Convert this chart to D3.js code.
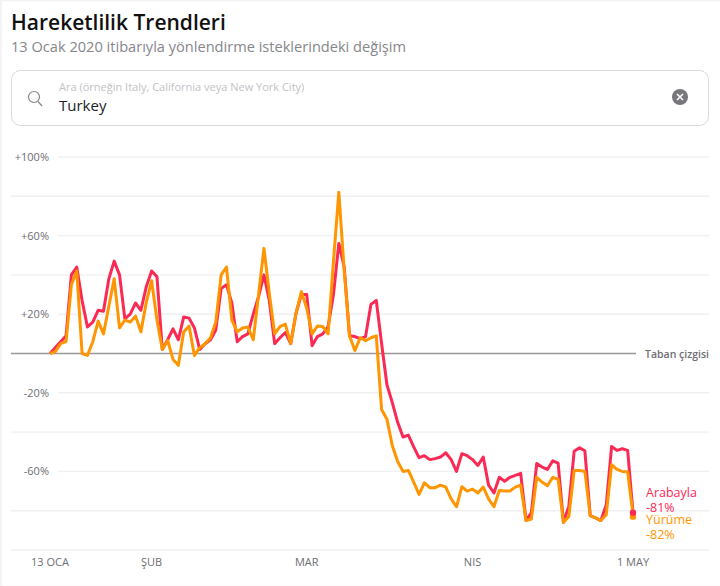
<!DOCTYPE html>
<html><head><meta charset="utf-8">
<script src="https://cdn.jsdelivr.net/npm/d3@7"></script>
<style>
html,body{margin:0;padding:0;background:#fff;overflow:hidden}
text{font-family:"Open Sans",sans-serif}
</style></head><body><svg id="c" width="720" height="586"></svg>
<script>
const title = "Hareketlilik Trendleri";
const subtitle = "13 Ocak 2020 itibarıyla yönlendirme isteklerindeki değişim";
const placeholder = "Ara (örneğin Italy, California veya New York City)";
const query = "Turkey";
const baselineLabel = "Taban çizgisi";
const gridValues = [100,80,60,40,20,-20,-40,-60,-80,-100];
const labelledValues = [100,60,20,-20,-60];
const yTickLabels = ["+100%","+60%","+20%","-20%","-60%"];
const xTickDays = [0,19,48,79,109];
const xTickLabels = ["13 OCA","ŞUB","MAR","NIS","1 MAY"];
const driving = [0,3,6,9,40,44,27,13.5,16,22,21.5,38,47,40,17.6,20,25.7,22,34,42,39,2,7,12.5,7,18.6,18,13,2,5,7,12,33,35,25.6,6,8.6,10,20,29,40,27,5,8,10.7,5,20.5,30,30,4,8.6,10,13.7,30,56,44,9,8.6,7.5,8.6,25,27,5,-16,-25,-35,-42.5,-41.5,-47.5,-53,-52,-54,-53.5,-52.7,-50.5,-54,-60,-51,-52,-54,-57,-52.7,-67,-71,-63,-65,-63,-62,-61,-85,-81,-56,-57.8,-59,-54.6,-55.8,-85.9,-77.8,-49.8,-48,-49.5,-82.5,-83.7,-85,-77,-47.3,-49.3,-48.5,-49.3,-81];
const walking = [0,1,5,6,35,42,0,-1,6,16.5,10,24,38,13,17,16,19,11,26,37,17,2,6.6,-3,-6,11,14,-1,3,5,8,16,40,44,17,11,13,13.5,7,30,53.5,30.7,10,13.7,15,5,20.5,31.5,23,10,14,13.7,10,47,82,42.5,9,1.5,8,6.5,8,9,-28.5,-33.5,-47,-55,-60,-59.5,-65.5,-71.7,-65.8,-68.3,-68.3,-67,-68,-74,-78,-67.8,-70,-69,-71,-68,-74,-78,-69.7,-70,-70,-68,-67,-85,-84.2,-63,-65.4,-67.3,-63,-64,-86,-83,-59.5,-59.5,-60,-82.5,-83.7,-85,-82,-56.5,-59,-60,-60.2,-82];
const endLabels = [["Arabayla","-81%"],["Yürüme","-82%"]];
const colors = {driving:"#fa2a55", walking:"#ff9500"};

const svg = d3.select("#c");
const x = d3.scaleLinear().domain([0,109]).range([50,633]);
const y = d3.scaleLinear().domain([100,-100]).range([157,550]);

svg.append("rect").attr("width",720).attr("height",1.5).attr("fill","#f3f3f3");
svg.append("rect").attr("width",2).attr("height",586).attr("fill","#f3f3f3");

svg.append("text").attr("x",11).attr("y",30).attr("font-size",21).attr("font-weight",600).attr("fill","#111").text(title);
svg.append("text").attr("x",11).attr("y",52).attr("font-size",14.6).attr("fill","#86868b").text(subtitle);

svg.append("rect").attr("x",11.5).attr("y",70.5).attr("width",697).attr("height",55).attr("rx",9).attr("fill","#fff").attr("stroke","#d9d9de");
const icon = svg.append("g").attr("fill","none").attr("stroke","#86868b").attr("stroke-width",1.2);
icon.append("circle").attr("cx",34).attr("cy",97).attr("r",5.5);
icon.append("line").attr("x1",38).attr("y1",101.5).attr("x2",42).attr("y2",106);
svg.append("text").attr("x",59).attr("y",91).attr("font-size",11).attr("fill","#c2c2c6").text(placeholder);
svg.append("text").attr("x",59).attr("y",111).attr("font-size",15).attr("fill","#1d1d1f").text(query);
svg.append("circle").attr("cx",680).attr("cy",97).attr("r",8).attr("fill","#77777c");
svg.append("path").attr("d","M677 94L683 100M683 94L677 100").attr("stroke","#fff").attr("stroke-width",1.6);

svg.append("g").selectAll("line").data(gridValues).join("line")
  .attr("x1",d=>labelledValues.includes(d)?58:11).attr("x2",709)
  .attr("y1",d=>y(d)).attr("y2",d=>y(d)).attr("stroke","#f0f0f2").attr("stroke-width",1.4);
svg.append("line").attr("x1",11).attr("x2",636).attr("y1",y(0)).attr("y2",y(0)).attr("stroke","#999").attr("stroke-width",1.5);
svg.append("text").attr("x",645).attr("y",y(0)+4).attr("font-size",10.5).attr("font-weight",600).attr("fill","#6e6e73").text(baselineLabel);

svg.append("g").selectAll("text").data(labelledValues).join("text")
  .attr("x",49).attr("y",d=>y(d)+4).attr("text-anchor","end").attr("font-size",11).attr("fill","#6e6e73")
  .text((d,i)=>yTickLabels[i]);
svg.append("g").selectAll("text").data(xTickDays).join("text")
  .attr("x",d=>x(d)).attr("y",566).attr("text-anchor","middle").attr("font-size",11).attr("fill","#6e6e73")
  .text((d,i)=>xTickLabels[i]);

const line = d3.line().x((d,i)=>x(i)).y(d=>y(d));
svg.append("path").datum(driving).attr("d",line).attr("fill","none").attr("stroke",colors.driving).attr("stroke-width",3).attr("stroke-linejoin","round");
svg.append("path").datum(walking).attr("d",line).attr("fill","none").attr("stroke",colors.walking).attr("stroke-width",3).attr("stroke-linejoin","round");
svg.append("circle").attr("cx",x(109)).attr("cy",y(walking[109])+2).attr("r",3.2).attr("fill",colors.walking);
svg.append("circle").attr("cx",x(109)).attr("cy",y(driving[109])).attr("r",3.2).attr("fill",colors.driving);

[[0,colors.driving,497,512],[1,colors.walking,524,539]].forEach(([k,c,a,b])=>{
  svg.append("text").attr("x",646).attr("y",a).attr("font-size",12.5).attr("font-weight",500).attr("fill",c).text(endLabels[k][0]);
  svg.append("text").attr("x",646).attr("y",b).attr("font-size",12.5).attr("font-weight",500).attr("fill",c).text(endLabels[k][1]);
});
</script></body></html>
